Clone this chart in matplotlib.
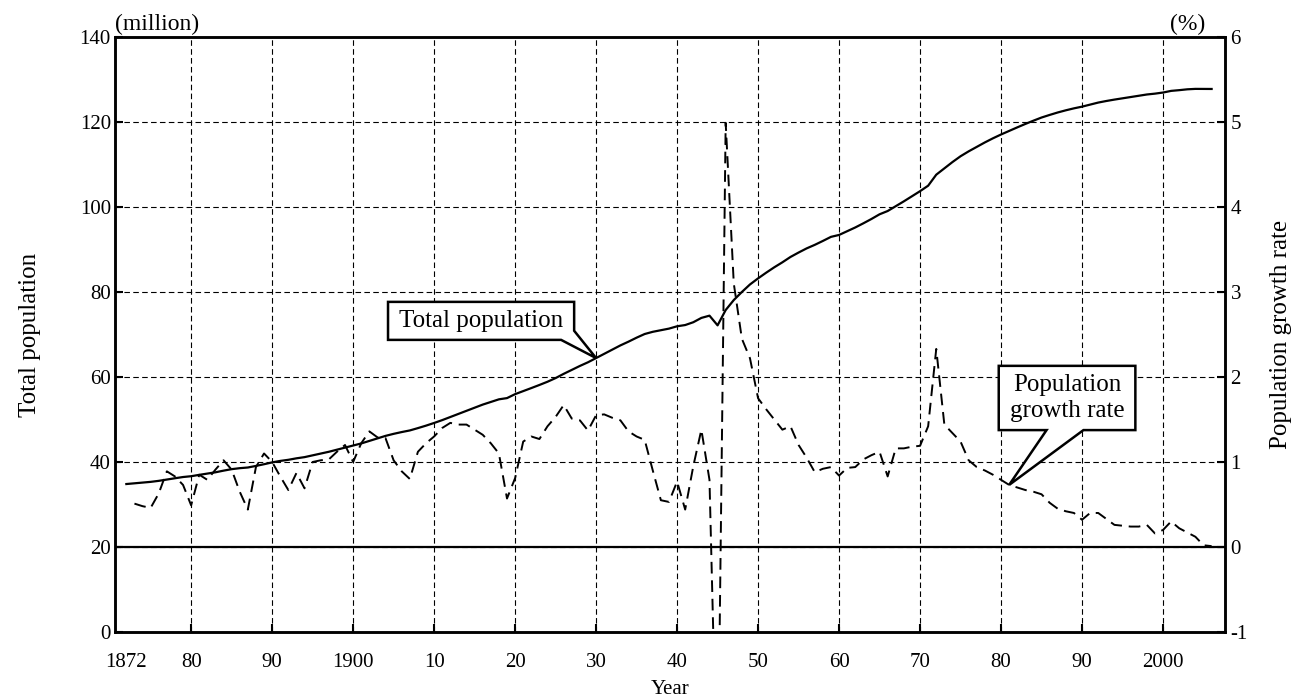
import matplotlib
matplotlib.use('Agg')
import matplotlib.pyplot as plt
from matplotlib.patches import Polygon
from matplotlib.transforms import IdentityTransform

# total population (million), 1872-2006
years = list(range(1872, 2007))
population = [
    34.81, 34.99, 35.15, 35.32, 35.56, 35.87, 36.17, 36.46, 36.65, 36.97,
    37.26, 37.57, 37.96, 38.31, 38.54, 38.70, 39.07, 39.47, 39.90, 40.25,
    40.51, 40.86, 41.14, 41.56, 41.99, 42.40, 42.89, 43.40, 43.85, 44.36,
    44.96, 45.55, 46.14, 46.62, 47.04, 47.42, 47.97, 48.55, 49.18, 49.85,
    50.58, 51.31, 52.04, 52.75, 53.50, 54.13, 54.74, 55.03, 55.96, 56.67,
    57.39, 58.12, 58.88, 59.74, 60.74, 61.66, 62.60, 63.46, 64.45, 65.46,
    66.43, 67.43, 68.31, 69.25, 70.11, 70.63, 71.01, 71.38, 71.93, 72.22,
    72.88, 73.90, 74.43, 72.15, 75.75, 78.10, 80.00, 81.77, 83.20, 84.54,
    85.81, 86.98, 88.24, 89.28, 90.26, 91.09, 92.01, 92.97, 93.42, 94.29,
    95.18, 96.16, 97.18, 98.28, 99.05, 100.20, 101.33, 102.54, 103.72, 105.01,
    107.60, 109.10, 110.57, 111.94, 113.09, 114.15, 115.19, 116.16, 117.06, 117.90,
    118.73, 119.54, 120.31, 121.05, 121.66, 122.24, 122.75, 123.21, 123.61, 124.10,
    124.57, 124.94, 125.27, 125.57, 125.86, 126.17, 126.47, 126.67, 126.93, 127.32,
    127.49, 127.69, 127.79, 127.77, 127.77,
]

# population growth rate (%), 1873-2006
rate_years = list(range(1873, 2007))
growth_rate = [
    0.51, 0.48, 0.46, 0.63, 0.89, 0.83, 0.73, 0.49, 0.85, 0.79,
    0.91, 1.02, 0.91, 0.65, 0.44, 0.94, 1.10, 1.00, 0.83, 0.67,
    0.87, 0.69, 1.00, 1.02, 1.03, 1.12, 1.20, 1.00, 1.22, 1.36,
    1.29, 1.28, 1.02, 0.89, 0.80, 1.12, 1.22, 1.30, 1.40, 1.46,
    1.44, 1.44, 1.38, 1.32, 1.22, 1.10, 0.57, 0.81, 1.24, 1.30,
    1.27, 1.42, 1.53, 1.67, 1.51, 1.49, 1.37, 1.55, 1.56, 1.52,
    1.49, 1.36, 1.30, 1.26, 0.90, 0.55, 0.53, 0.77, 0.44, 0.95,
    1.38, 0.79, -3.06, 4.99, 3.10, 2.45, 2.22, 1.75, 1.62, 1.50,
    1.38, 1.42, 1.20, 1.05, 0.88, 0.92, 0.94, 0.84, 0.93, 0.94,
    1.03, 1.08, 1.12, 0.83, 1.16, 1.16, 1.18, 1.19, 1.42, 2.33,
    1.44, 1.34, 1.24, 1.02, 0.94, 0.90, 0.85, 0.79, 0.73, 0.70,
    0.67, 0.65, 0.62, 0.52, 0.45, 0.42, 0.40, 0.32, 0.40, 0.40,
    0.33, 0.26, 0.25, 0.24, 0.24, 0.26, 0.16, 0.20, 0.30, 0.22,
    0.17, 0.12, 0.02, 0.01,
]

x_ticks = [1872] + list(range(1880, 2001, 10))
x_labels = [str(y) if (y % 100 == 0 or y == 1872) else str(y % 100) for y in x_ticks]

plt.rcParams['font.family'] = ['Liberation Serif', 'DejaVu Serif']
plt.rcParams['axes.unicode_minus'] = False

fig = plt.figure(figsize=(13.04, 6.98), dpi=100)
ax = fig.add_axes([0.0882, 0.0946, 0.8512, 0.8524])
ax2 = ax.twinx()

ax.plot(years, population, color='black', lw=1.6, zorder=3)
ax2.axhline(0, color='black', lw=1.6)
ax2.plot(rate_years, growth_rate, color='black', lw=1.4, linestyle=(0, (6, 3.5)))

ax.set_xlim(1870.6, 2007.65)
ax.set_ylim(0, 140)
ax2.set_ylim(-1, 6)
ax.set_yticks(range(0, 141, 20))
ax2.set_yticks(range(-1, 7))
ax.set_xticks(x_ticks)
ax.set_xticklabels(x_labels)

ax.grid(True, color='black', linestyle=(0, (5, 3)), lw=0.8)
first = ax.xaxis.get_major_ticks()[0]
first.tick1line.set_visible(False)
first.gridline.set_visible(False)

ax.tick_params(axis='both', direction='in', length=6, width=1.5, labelsize=15)
ax.tick_params(axis='x', pad=15)
ax.tick_params(axis='y', pad=3)
ax2.tick_params(axis='y', direction='in', length=6, width=1.5, labelsize=15, pad=4)
for a in (ax, ax2):
    for s in a.spines.values():
        s.set_linewidth(1.8)

ax.set_xlabel('Year', fontsize=15, labelpad=6)
ax.set_ylabel('Total population', fontsize=18, labelpad=28)
ax2.set_ylabel('Population growth rate', fontsize=18, labelpad=16)
ax.text(0.0, 1.004, '(million)', transform=ax.transAxes, fontsize=17, ha='left', va='bottom')
ax.text(0.982, 1.004, '(%)', transform=ax.transAxes, fontsize=17, ha='right', va='bottom')


def callout(label, anchor, center, base_l, base_r, padx=11, pady=8):
    # text box with a speech-bubble notch pointing at anchor
    t = ax2.text(center[0], center[1], label, transform=ax.transData, fontsize=18,
                 ha='center', va='center', linespacing=1.25, zorder=8)
    fig.canvas.draw()
    bb = t.get_window_extent()
    x0, y0 = bb.x0 - padx, bb.y0 - pady
    x1, y1 = bb.x1 + padx, bb.y1 + pady
    w, h = x1 - x0, y1 - y0
    tip = tuple(ax.transData.transform(anchor))
    verts = [(x0, y0), (x0 + base_l * w, y0), tip]
    if base_r > 1:
        verts += [(x1, y0 + (base_r - 1) * h)]
    else:
        verts += [(x0 + base_r * w, y0), (x1, y0)]
    verts += [(x1, y1), (x0, y1)]
    ax2.add_patch(Polygon(verts, closed=True, transform=IdentityTransform(), fc='white',
                          ec='black', lw=1.8, zorder=7, clip_on=False, joinstyle='miter'))


i30 = years.index(1930)
callout('Total population', (1930, population[i30]), (1915.8, 73.2), 0.93, 1.24)
i81 = rate_years.index(1981)
callout('Population\ngrowth rate', (1981, 20 + 20 * growth_rate[i81]), (1988.15, 55.06), 0.35, 0.62)

fig.savefig('out.png', dpi=100)
